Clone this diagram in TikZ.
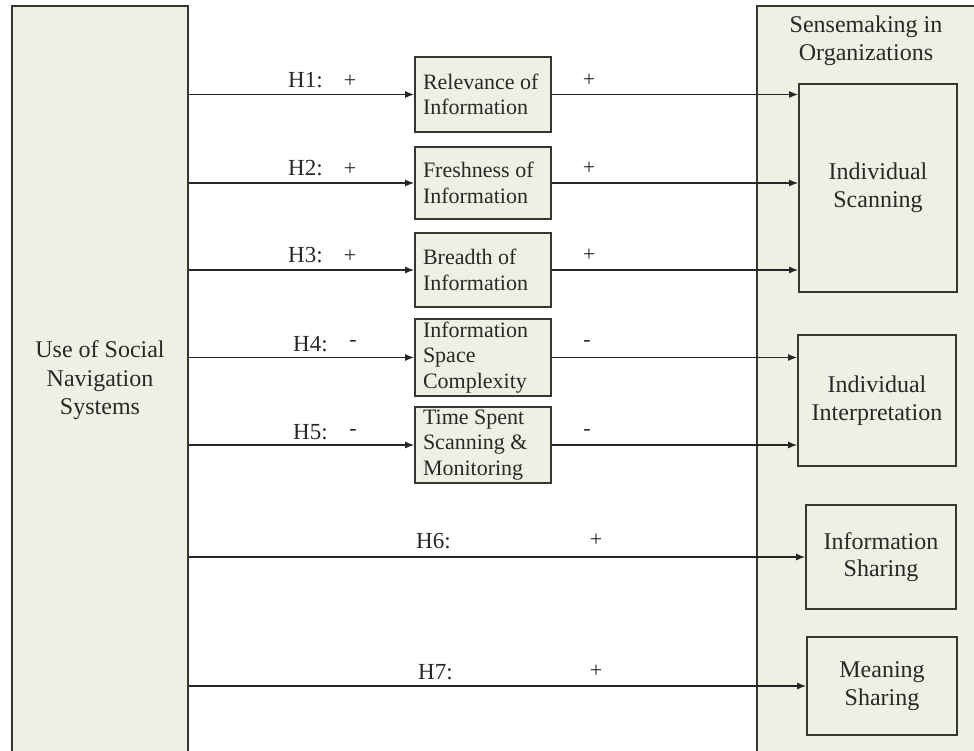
\documentclass[tikz,border=0pt]{standalone}
\usepackage{fontspec}
\setmainfont{Liberation Serif}
\usetikzlibrary{arrows.meta}
\definecolor{boxfill}{RGB}{239,240,228}
\definecolor{boxline}{RGB}{55,55,50}
\definecolor{txt}{RGB}{40,40,40}
\tikzset{
  bigbox/.style={draw=boxline, line width=1.6pt, fill=boxfill, inner sep=0pt},
  midbox/.style={draw=boxline, line width=1.6pt, fill=boxfill, align=flush left,
    text width=120pt, inner xsep=8pt, inner ysep=0pt, text=txt,
    execute at begin node={\spaceskip=0pt\xspaceskip=0pt},
    font=\fontsize{22}{25.5}\selectfont},
  outbox/.style={draw=boxline, line width=1.6pt, fill=boxfill, align=center,
    inner sep=0pt, text=txt, font=\fontsize{24}{27.5}\selectfont},
  hlab/.style={inner sep=0pt, anchor=base west, text=txt, font=\fontsize{23}{26}\selectfont},
  slab/.style={inner sep=0pt, text=txt, font=\fontsize{22}{26}\selectfont},
  conn/.style={draw=black!85, line width=1.5pt, -{Latex[length=9pt,width=7pt]}}
}
\begin{document}
\begin{tikzpicture}[x=1pt,y=-1pt]
\useasboundingbox (0,0) rectangle (974,751);
\clip (0,0) rectangle (974,751);
% containers
\node[bigbox, minimum width=176pt, minimum height=749pt, align=center, text=txt,
  font=\fontsize{24}{28.5}\selectfont] (use) at (100,380.5)
  {Use of Social\\Navigation\\Systems};
\node[bigbox, minimum width=233pt, minimum height=754pt] (org) at (873.5,383) {};
\node[inner sep=0pt, align=center, text=txt, font=\fontsize{24}{28}\selectfont]
  (orgtitle) at (866,41) {Sensemaking in\\Organizations};
% middle boxes
\node[midbox, minimum height=75pt] (rel) at (483,94.5) {Relevance of\\Information};
\node[midbox, minimum height=72pt] (fresh) at (483,183) {Freshness of\\Information};
\node[midbox, minimum height=74pt] (breadth) at (483,270) {Breadth of\\Information};
\node[midbox, minimum height=77pt] (space) at (483,357.5) {Information\\Space\\Complexity};
\node[midbox, minimum height=76pt] (time) at (483,445) {Time Spent\\Scanning \&\\Monitoring};
% right boxes
\node[outbox, minimum width=158pt, minimum height=208pt] (scan) at (878,188) {Individual\\Scanning};
\node[outbox, minimum width=158pt, minimum height=131pt] (interp) at (877,400.5) {Individual\\Interpretation};
\node[outbox, minimum width=150pt, minimum height=104pt] (share) at (881,557) {Information\\Sharing};
\node[outbox, minimum width=150pt, minimum height=98pt] (mean) at (882,686) {Meaning\\Sharing};
% connectors from left
\draw[conn] (rel.west -| use.east) -- (rel.west);
\draw[conn] (fresh.west -| use.east) -- (fresh.west);
\draw[conn] (breadth.west -| use.east) -- (breadth.west);
\draw[conn] (space.west -| use.east) -- (space.west);
\draw[conn] (time.west -| use.east) -- (time.west);
\draw[conn] (share.west -| use.east) -- (share.west);
\draw[conn] (mean.west -| use.east) -- (mean.west);
% connectors to right
\draw[conn] (rel.east) -- (rel.east -| scan.west);
\draw[conn] (fresh.east) -- (fresh.east -| scan.west);
\draw[conn] (breadth.east) -- (breadth.east -| scan.west);
\draw[conn] (space.east) -- (space.east -| interp.west);
\draw[conn] (time.east) -- (time.east -| interp.west);
% labels
\node[hlab] (l1) at (288,88) {H1:};
\node[slab] (p1) at (350,81) {+};
\node[slab] (q1) at (589,80) {+};
\node[hlab] (l2) at (288,176) {H2:};
\node[slab] (p2) at (350,169) {+};
\node[slab] (q2) at (589,168) {+};
\node[hlab] (l3) at (288,263) {H3:};
\node[slab] (p3) at (350,256) {+};
\node[slab] (q3) at (589,255) {+};
\node[hlab] (l4) at (293,351) {H4:};
\node[slab] (p4) at (353,343) {-};
\node[slab] (q4) at (587,343) {-};
\node[hlab] (l5) at (293,439) {H5:};
\node[slab] (p5) at (353,432) {-};
\node[slab] (q5) at (587,432) {-};
\node[hlab] (l6) at (416,548) {H6:};
\node[slab] (p6) at (596,540) {+};
\node[hlab] (l7) at (418,679) {H7:};
\node[slab] (p7) at (596,671) {+};
\end{tikzpicture}
\end{document}
